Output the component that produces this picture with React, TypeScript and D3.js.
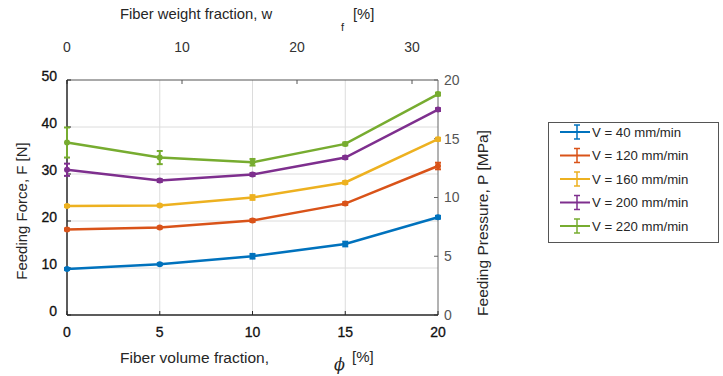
import React from "react";
import * as d3 from "d3";

const phi = [0, 5, 10, 15, 20];
const seriesNames = ["V = 40 mm/min", "V = 120 mm/min", "V = 160 mm/min", "V = 200 mm/min", "V = 220 mm/min"];
const v40 = [9.8, 10.8, 12.5, 15.1, 20.8];
const v120 = [18.2, 18.6, 20.1, 23.7, 31.7];
const v160 = [23.2, 23.3, 25.0, 28.2, 37.4];
const v200 = [30.9, 28.6, 29.9, 33.5, 43.7];
const v220 = [36.7, 33.5, 32.5, 36.4, 47.0];
const e40 = [0.2, 0.2, 0.5, 0.5, 0.3];
const e120 = [0.2, 0.2, 0.3, 0.3, 0.7];
const e160 = [0.2, 0.2, 0.5, 0.3, 0.3];
const e200 = [1.3, 0.3, 0.3, 0.3, 0.3];
const e220 = [3.2, 1.4, 0.7, 0.3, 0.3];
const colors = ["#0072BD", "#D95319", "#EDB120", "#7E2F8E", "#77AC30"];
const bottomTicks = [0, 5, 10, 15, 20];
const leftTicks = [0, 10, 20, 30, 40, 50];
const rightTicks = [0, 5, 10, 15, 20];
const topTicks = [0, 10, 20, 30];

const values = [v40, v120, v160, v200, v220];
const errors = [e40, e120, e160, e200, e220];

export default function App() {
  const W = 723, H = 376;
  const x0 = 67, x1 = 438, yTop = 80, yBot = 315;
  const x = d3.scaleLinear().domain([0, 20]).range([x0, x1]);
  const xTop = d3.scaleLinear().domain([0, 32.26]).range([x0, x1]);
  const y = d3.scaleLinear().domain([0, 50]).range([yBot, yTop]);
  const yR = d3.scaleLinear().domain([0, 20]).range([yBot, yTop]);
  const line = d3.line<number>().x((_, i) => x(phi[i])).y((d) => y(d));
  const font = "Liberation Sans, Arial, sans-serif";
  const dark = "#262626";
  const black = "#111";
  const gray = "#555";

  return (
    <svg width={W} height={H} style={{ position: "absolute", left: 0, top: 0, background: "#fff" }} fontFamily={font}>
      {/* grid */}
      {bottomTicks.slice(1, -1).map((t) => (
        <line key={"gx" + t} x1={x(t)} x2={x(t)} y1={yTop} y2={yBot} stroke="#dcdcdc" strokeWidth={1} />
      ))}
      {leftTicks.slice(1, -1).map((t) => (
        <line key={"gy" + t} x1={x0} x2={x1} y1={y(t)} y2={y(t)} stroke="#dcdcdc" strokeWidth={1} />
      ))}
      {/* top axis */}
      <line x1={x0} x2={x1} y1={yTop} y2={yTop} stroke="#555" strokeWidth={1} />
      {topTicks.map((t) => (
        <g key={"tt" + t}>
          <line x1={xTop(t)} x2={xTop(t)} y1={yTop} y2={yTop + 4} stroke="#555" />
          <text x={xTop(t)} y={52} textAnchor="middle" fontSize={14} fill="#333">{t}</text>
        </g>
      ))}
      {/* right axis */}
      <line x1={x1} x2={x1} y1={yTop} y2={yBot} stroke="#666" strokeWidth={1} />
      {rightTicks.map((t) => (
        <g key={"rt" + t}>
          <line x1={x1 - 4} x2={x1} y1={yR(t)} y2={yR(t)} stroke="#666" />
          <text x={x1 + 6} y={yR(t)} dy="0.35em" fontSize={14} fill={gray}>{t}</text>
        </g>
      ))}
      {/* left axis */}
      <line x1={x0} x2={x0} y1={yTop} y2={yBot} stroke={dark} strokeWidth={1.5} />
      {leftTicks.map((t) => (
        <g key={"lt" + t}>
          <line x1={x0} x2={x0 + 4} y1={y(t)} y2={y(t)} stroke={dark} />
          <text x={57} y={y(t) - 4} dy="0.35em" textAnchor="end" fontSize={14} fill={black} stroke={black} strokeWidth={0.3}>{t}</text>
        </g>
      ))}
      {/* bottom axis */}
      <line x1={x0} x2={x1} y1={yBot} y2={yBot} stroke={dark} strokeWidth={1.5} />
      {bottomTicks.map((t) => (
        <g key={"bt" + t}>
          <line x1={x(t)} x2={x(t)} y1={yBot} y2={yBot - 4} stroke={dark} />
          <text x={x(t)} y={337} textAnchor="middle" fontSize={14} fill={black} stroke={black} strokeWidth={0.3}>{t}</text>
        </g>
      ))}
      {/* series */}
      {values.map((vals, si) => (
        <g key={"s" + si}>
          <path d={line(vals) || ""} fill="none" stroke={colors[si]} strokeWidth={2.5} />
          {vals.map((v, i) => {
            const e = errors[si][i];
            const cx = x(phi[i]);
            return (
              <g key={"p" + i}>
                <line x1={cx} x2={cx} y1={y(v + e)} y2={y(v - e)} stroke={colors[si]} strokeWidth={2} />
                <line x1={cx - 3} x2={cx + 3} y1={y(v + e)} y2={y(v + e)} stroke={colors[si]} strokeWidth={2} />
                <line x1={cx - 3} x2={cx + 3} y1={y(v - e)} y2={y(v - e)} stroke={colors[si]} strokeWidth={2} />
                <circle cx={cx} cy={y(v)} r={3} fill={colors[si]} />
              </g>
            );
          })}
        </g>
      ))}
      {/* axis labels */}
      <text transform={`translate(27,211) rotate(-90)`} textAnchor="middle" fontSize={15} fill={dark}>Feeding Force, F [N]</text>
      <text transform={`translate(488,223) rotate(-90)`} textAnchor="middle" fontSize={15.5} fill={dark}>Feeding Pressure, P [MPa]</text>
      <text x={120} y={363} fontSize={15.5} fill={dark}>Fiber volume fraction,</text>
      <text x={334} y={370} fontSize={16} fontStyle="italic" fontFamily="DejaVu Serif, serif" fill={dark}>ϕ</text>
      <text x={352} y={362} fontSize={15} fill={dark}>[%]</text>
      <text x={120} y={19} fontSize={14.8} fill={dark}>Fiber weight fraction, w</text>
      <text x={341} y={31} fontSize={11} fill={dark}>f</text>
      <text x={353} y={19} fontSize={14.8} fill={dark}>[%]</text>
      {/* legend */}
      <rect x={548.5} y={122.5} width={170} height={120} fill="#fff" stroke="#555" strokeWidth={1} />
      {seriesNames.map((n, i) => {
        const ly = 132 + i * 23.5;
        return (
          <g key={"lg" + i}>
            <line x1={560} x2={590} y1={ly} y2={ly} stroke={colors[i]} strokeWidth={2} />
            <line x1={577} x2={577} y1={ly - 7} y2={ly + 7} stroke={colors[i]} strokeWidth={1.5} />
            <line x1={574} x2={580} y1={ly - 7} y2={ly - 7} stroke={colors[i]} strokeWidth={1.5} />
            <line x1={574} x2={580} y1={ly + 7} y2={ly + 7} stroke={colors[i]} strokeWidth={1.5} />
            <text x={592} y={ly} dy="0.35em" fontSize={13.2} fill={dark}>{n}</text>
          </g>
        );
      })}
    </svg>
  );
}
